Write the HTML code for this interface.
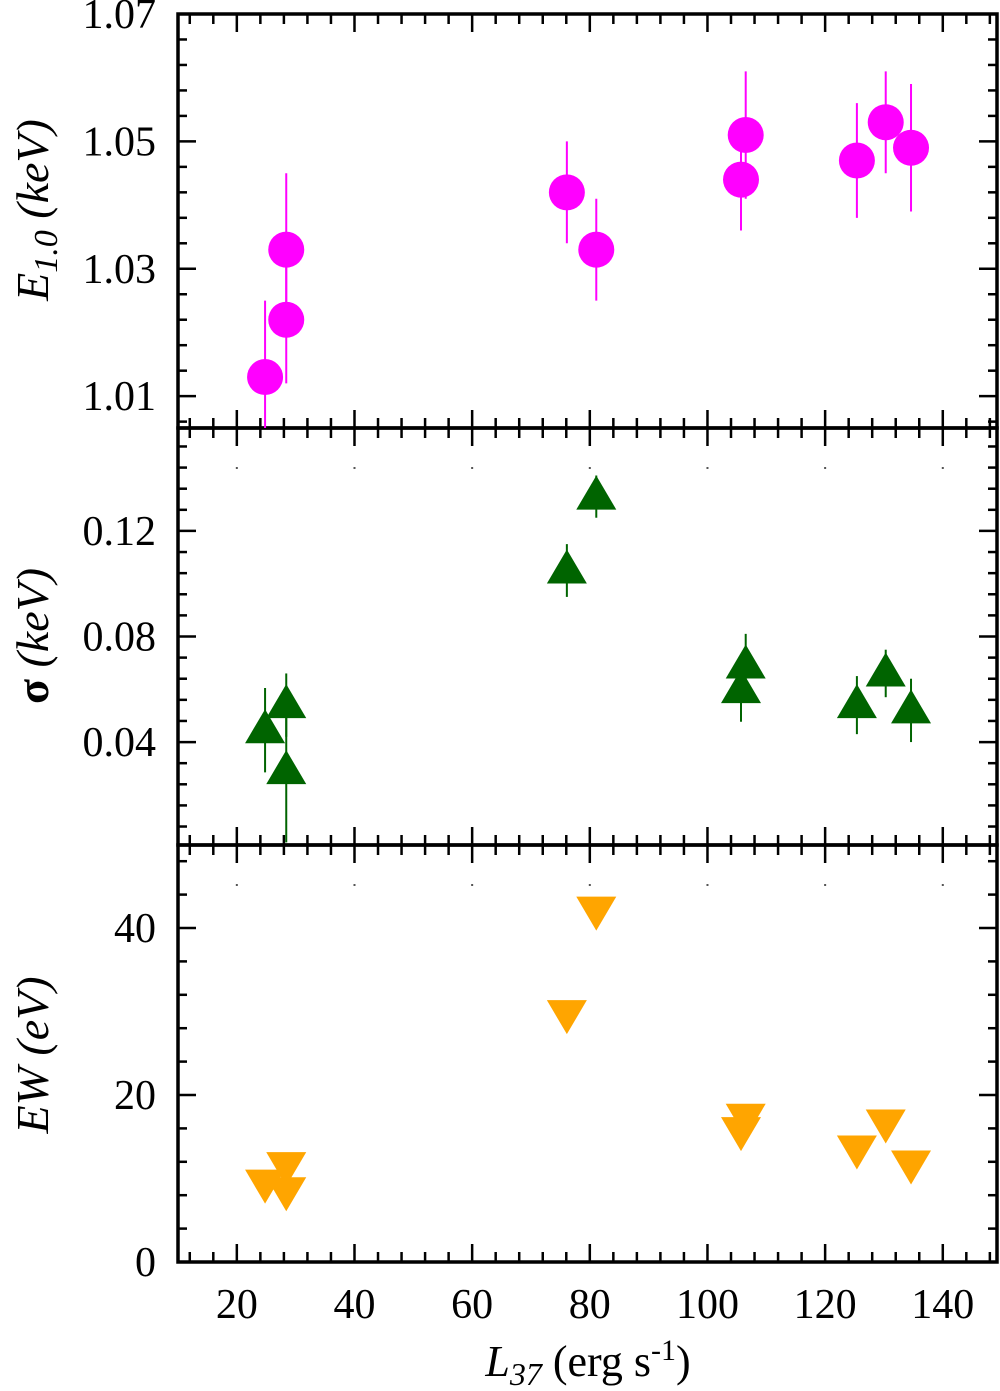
<!DOCTYPE html>
<html><head><meta charset="utf-8"><style>
body{margin:0;background:#fff}
svg{display:block;font-family:"Liberation Serif",serif}
</style></head><body>
<svg id="c" width="1000" height="1391" viewBox="0 0 1000 1391" xmlns="http://www.w3.org/2000/svg"></svg>
<script>
const xVals=[24.8,28.4,28.4,76.1,81.1,105.7,106.5,125.4,130.3,134.6];
const eVals=[1.013,1.022,1.033,1.042,1.033,1.044,1.051,1.047,1.053,1.049];
const eErrs=[0.012,0.010,0.012,0.008,0.008,0.008,0.010,0.009,0.008,0.010];
const sVals=[0.0445,0.054,0.029,0.105,0.133,0.0597,0.069,0.054,0.066,0.052];
const sErrs=[0.016,0.012,0.027,0.010,0.008,0.012,0.012,0.011,0.009,0.012];
const wVals=[9.5,11.6,8.6,29.8,42.2,15.8,17.4,13.6,16.7,11.8];
const xTicks=[20,40,60,80,100,120,140];
const eTicks=[1.01,1.03,1.05,1.07];
const sTicks=[0.04,0.08,0.12];
const wTicks=[0,20,40];

const svg=document.getElementById('c');const NS='http://www.w3.org/2000/svg';
function mk(t,a,p){const e=document.createElementNS(NS,t);for(const k in a)e.setAttribute(k,a[k]);(p||svg).appendChild(e);return e;}
const L=178,R=997;
const X=v=>L+(v-10)*5.883;
const panels=[
 {top:14,bot:428,min:1.005,max:1.07,major:0.02,minor:0.004,off:1.01,ticks:eTicks,fmt:v=>v.toFixed(2)},
 {top:428,bot:845,min:0.001,max:0.159,major:0.04,minor:0.008,off:0,ticks:sTicks,fmt:v=>v.toFixed(2)},
 {top:845,bot:1262,min:0,max:49.94,major:20,minor:4,off:0,ticks:wTicks,fmt:v=>String(v)}
];
panels.forEach(p=>p.Y=v=>p.bot-(v-p.min)/(p.max-p.min)*(p.bot-p.top));
const ax=mk('g',{stroke:'#000','stroke-width':2.5});


panels.forEach((p,i)=>{
 for(let v=12;v<=148;v+=4){const x=X(v);const maj=v%20===0;const l=maj?18:10;
  mk('line',{x1:x,x2:x,y1:p.bot,y2:p.bot-l},ax);mk('line',{x1:x,x2:x,y1:p.top,y2:p.top+l},ax);}
 const n0=Math.ceil((p.min-p.off)/p.minor-1e-6);
 for(let k=n0;;k++){const v=p.off+k*p.minor;if(v>p.max+1e-9)break;const y=p.Y(v);
  const maj=Math.abs(((v-p.off)/p.major)-Math.round((v-p.off)/p.major))<1e-6;const l=maj?18:9;
  mk('line',{x1:L,x2:L+l,y1:y,y2:y},ax);mk('line',{x1:R,x2:R-l,y1:y,y2:y},ax);}
 p.ticks.forEach(v=>{const t=mk('text',{x:156,y:p.Y(v)+14,'text-anchor':'end','font-size':42});t.textContent=p.fmt(v);
  
  });
 mk('rect',{x:L,y:p.top,width:R-L,height:p.bot-p.top,fill:'none',stroke:'#000','stroke-width':3.5});
 if(i>0)xTicks.forEach(v=>{mk('rect',{x:X(v)-1,y:p.top+39,width:2,height:2,fill:'#555'});});
});
xTicks.forEach(v=>{const t=mk('text',{x:X(v),y:1318,'text-anchor':'middle','font-size':42});t.textContent=v;
 
 });
const g1=mk('g',{});
const P0=panels[0],P1=panels[1],P2=panels[2];
xVals.forEach((x,i)=>{const cx=X(x);
 mk('line',{x1:cx,x2:cx,y1:Math.min(P0.bot,P0.Y(eVals[i]-eErrs[i])),y2:P0.Y(eVals[i]+eErrs[i]),stroke:'#ff00ff','stroke-width':2},g1);
 const c=mk('circle',{cx:cx,cy:P0.Y(eVals[i]),r:18,fill:'#ff00ff'},g1);
 });
const g2=mk('g',{});
xVals.forEach((x,i)=>{const cx=X(x),cy=P1.Y(sVals[i]);
 mk('line',{x1:cx,x2:cx,y1:Math.min(P1.bot,P1.Y(sVals[i]-sErrs[i])),y2:P1.Y(sVals[i]+sErrs[i]),stroke:'#006400','stroke-width':2},g2);
 const t=mk('polygon',{points:`${cx-20},${cy+13} ${cx+20},${cy+13} ${cx},${cy-21}`,fill:'#006400'},g2);
 });
const g3=mk('g',{});
xVals.forEach((x,i)=>{const cx=X(x),cy=P2.Y(wVals[i]);
 const t=mk('polygon',{points:`${cx-20},${cy-13} ${cx+20},${cy-13} ${cx},${cy+21}`,fill:'#ffa500'},g3);
 });
function ylab(html,y,name){const t=mk('text',{transform:`translate(48,${y}) rotate(-90)`,'text-anchor':'middle','font-size':46,'font-style':'italic'});t.innerHTML=html;
 }
ylab('E<tspan font-size="34" dy="9">1.0</tspan><tspan dy="-9"> (keV)</tspan>',210,'y-axis-title-energy');
ylab('<tspan font-style="normal" font-weight="bold">σ</tspan> (keV)',636,'y-axis-title-sigma');
ylab('EW (eV)',1055,'y-axis-title-ew');
const xt=mk('text',{x:588,y:1376,'text-anchor':'middle','font-size':44});
xt.innerHTML='<tspan font-style="italic">L<tspan font-size="32" dy="9">37</tspan></tspan><tspan dy="-9"> (erg s</tspan><tspan font-size="30" dy="-16">-1</tspan><tspan dy="16">)</tspan>';

</script>
</body></html>
